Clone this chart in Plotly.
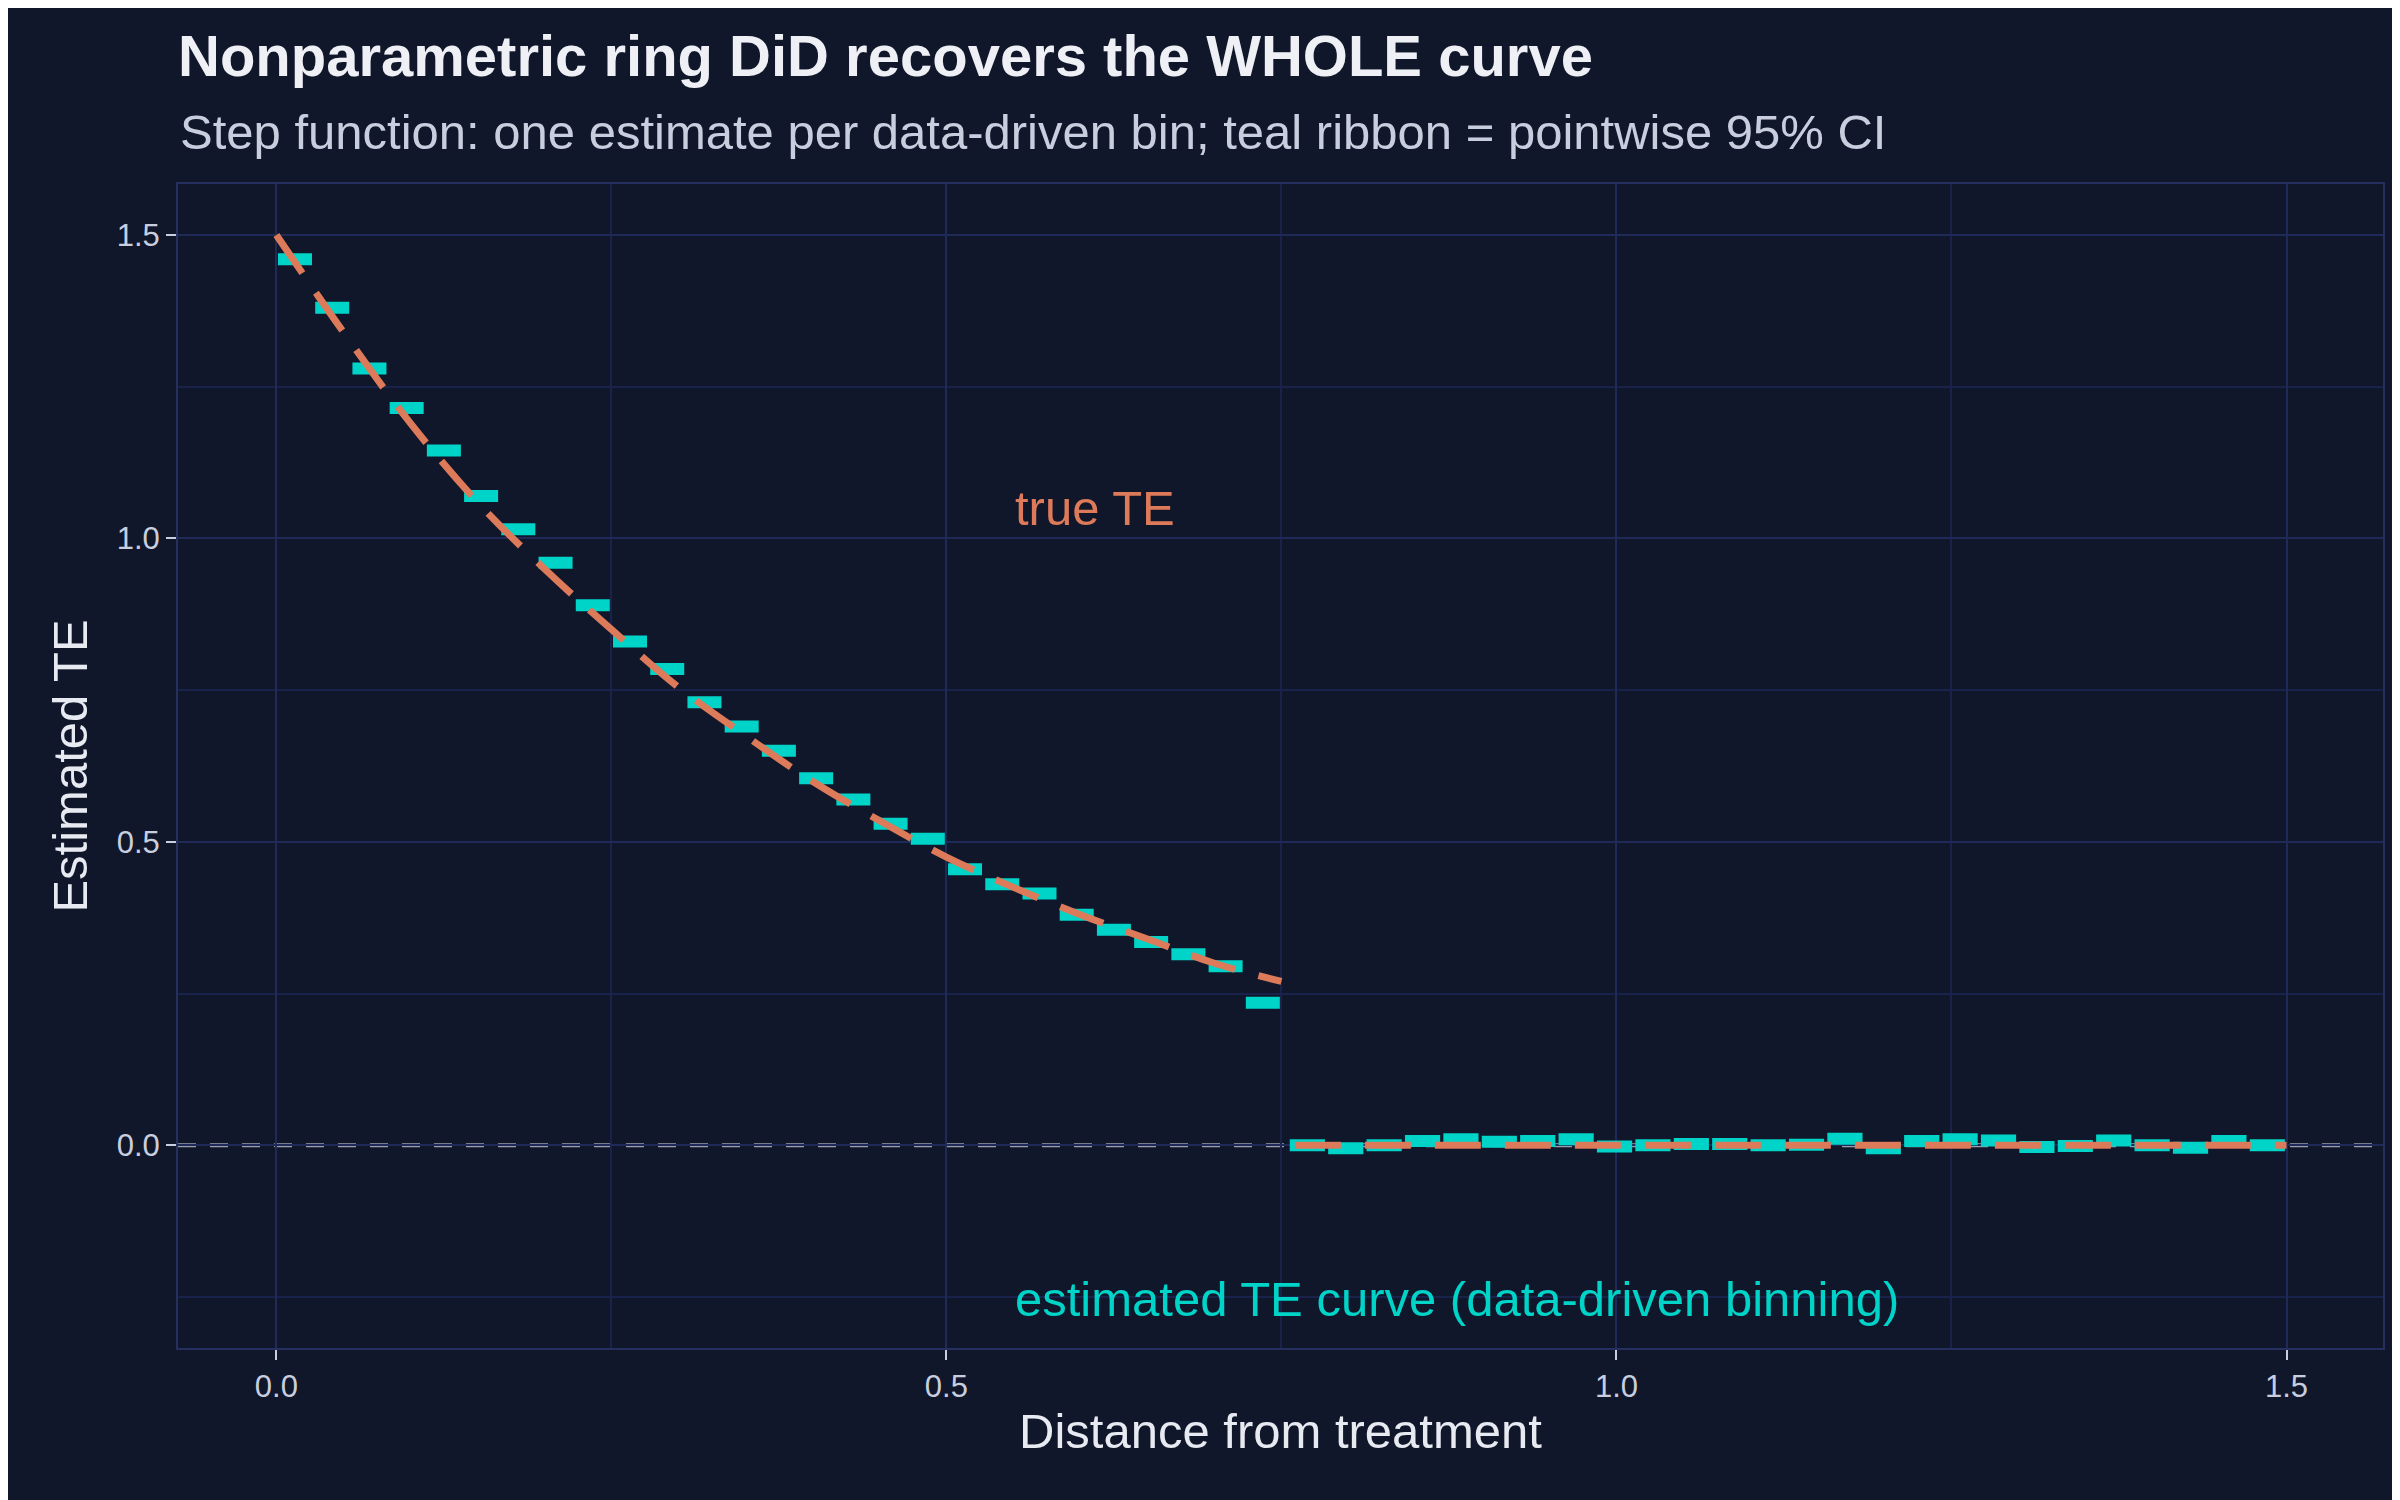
import numpy as np
import plotly.graph_objects as go

# estimated TE per data-driven bin (left part: 27 bins on [0, 0.75])
est_left = [1.46, 1.38, 1.28, 1.215, 1.145, 1.07, 1.015, 0.96, 0.89, 0.83,
            0.785, 0.73, 0.69, 0.65, 0.605, 0.57, 0.53, 0.505, 0.455, 0.43,
            0.415, 0.38, 0.355, 0.335, 0.315, 0.295, 0.235]
# right part: 26 bins on [0.75, 1.5]
est_right = [0.000, -0.005, 0.000, 0.007, 0.010, 0.006, 0.007, 0.010, -0.002, 0.000,
             0.002, 0.002, 0.000, 0.001, 0.011, -0.005, 0.007, 0.010, 0.008, -0.003,
             -0.001, 0.008, 0.000, -0.004, 0.007, 0.000]

true_x = [0.0, 0.05, 0.1, 0.15, 0.2, 0.25, 0.3, 0.35, 0.4, 0.45, 0.5, 0.55, 0.6, 0.65, 0.7, 0.75]
true_y = [1.5, 1.34, 1.19, 1.06, 0.95, 0.85, 0.755, 0.675, 0.60, 0.535, 0.475, 0.425, 0.38, 0.34, 0.30, 0.27]
true_x2 = [0.76, 1.5]
true_y2 = [0.0, 0.0]

TEAL = "#00d4c8"
ORANGE = "#dc7a5a"
BG = "#10172a"
GRID = "#1f2a58"
TXT = "#c9cedf"

edges_left = np.linspace(0.0, 0.75, len(est_left) + 1)
edges_right = np.linspace(0.755, 1.5, len(est_right) + 1)

sx, sy = [], []
for edges, vals in ((edges_left, est_left), (edges_right, est_right)):
    for i, v in enumerate(vals):
        sx += [edges[i] + 0.0012, edges[i + 1] - 0.0012, None]
        sy += [v, v, None]

fig = go.Figure()
fig.add_hline(y=0, line=dict(color="#9a9ea8", width=4, dash="18px,14px"), layer="below")
fig.add_trace(go.Scatter(x=sx, y=sy, mode="lines", line=dict(color=TEAL, width=12),
                         showlegend=False, hoverinfo="skip"))
fig.add_trace(go.Scatter(x=true_x, y=true_y, mode="lines",
                         line=dict(color=ORANGE, width=7, dash="46px,24px", shape="spline"),
                         showlegend=False))
fig.add_trace(go.Scatter(x=true_x2, y=true_y2, mode="lines",
                         line=dict(color=ORANGE, width=7, dash="46px,24px"), showlegend=False))

fig.add_annotation(x=0.55, y=1.05, text="true TE", showarrow=False, xanchor="left",
                   font=dict(color=ORANGE, size=49))
fig.add_annotation(x=0.55, y=-0.253, text="estimated TE curve (data-driven binning)",
                   showarrow=False, xanchor="left", font=dict(color=TEAL, size=49))

axis_common = dict(showgrid=True, gridcolor=GRID, gridwidth=2, zeroline=False,
                   showline=True, linecolor="#25305e", linewidth=2, mirror=True,
                   ticks="outside", ticklen=10, tickcolor=TXT, tickwidth=2,
                   tickfont=dict(color=TXT, size=31),
                   minor=dict(showgrid=True, gridcolor="#18224a", gridwidth=1.5))
fig.update_xaxes(range=[-0.0734, 1.572], tickvals=[0, 0.5, 1.0, 1.5],
                 ticktext=["0.0", "0.5", "1.0", "1.5"],
                 title=dict(text="Distance from treatment", font=dict(color="#e8eaf2", size=49),
                            standoff=10),
                 **axis_common)
fig.update_yaxes(range=[-0.334, 1.584], tickvals=[0, 0.5, 1.0, 1.5],
                 ticktext=["0.0", "0.5", "1.0", "1.5"],
                 title=dict(text="Estimated TE", font=dict(color="#e8eaf2", size=49),
                            standoff=14),
                 **axis_common)
fig.update_xaxes(minor=dict(tickvals=[0.25, 0.75, 1.25], ticks=""))
fig.update_yaxes(minor=dict(tickvals=[-0.25, 0.25, 0.75, 1.25], ticks=""))

fig.update_layout(
    width=2400, height=1500,
    paper_bgcolor=BG, plot_bgcolor=BG,
    font=dict(family="Liberation Sans, Arial, sans-serif", color=TXT),
    margin=dict(l=170, r=25, t=176, b=160),
    title=dict(text="<b>Nonparametric ring DiD recovers the WHOLE curve</b>",
               x=170 / 2400, xanchor="left", y=1 - 48 / 1500, yanchor="middle",
               font=dict(size=58, color="#eef0f6")),
)
fig.add_annotation(xref="paper", yref="paper", x=0, y=1 + 52 / 1164, xanchor="left",
                   yanchor="middle", showarrow=False,
                   text="Step function: one estimate per data-driven bin; teal ribbon = pointwise 95% CI",
                   font=dict(size=49, color="#c9cedf"))

fig.write_html("out.html")
